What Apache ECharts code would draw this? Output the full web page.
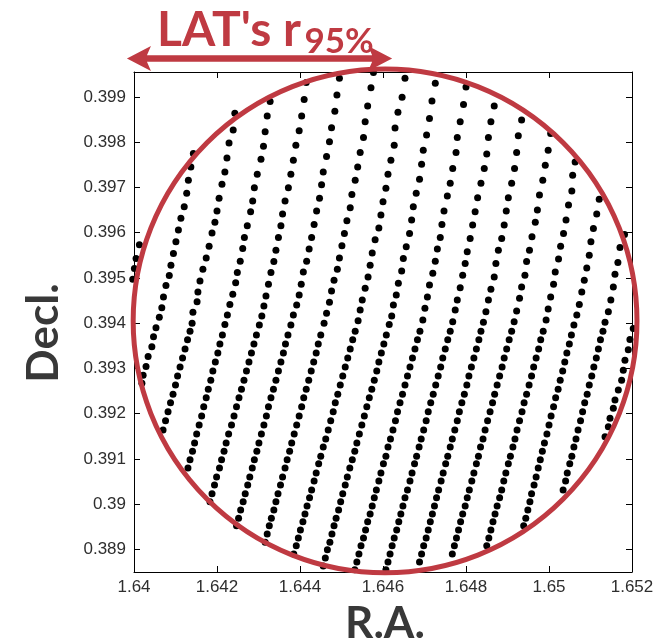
<!DOCTYPE html>
<html>
<head>
<meta charset="utf-8">
<title>LAT's r95%</title>
<script src="https://cdn.jsdelivr.net/npm/echarts@6/dist/echarts.min.js"></script>
<style>
  html, body { margin: 0; padding: 0; background: #ffffff; }
  #chart { width: 653px; height: 641px; }
</style>
</head>
<body>
<div id="chart"></div>
<script>
// Axis ranges and tick labels
const raRange = [1.64, 1.652];
const decRange = [0.3885, 0.39955];
const raTicks = [1.64, 1.642, 1.644, 1.646, 1.648, 1.65, 1.652];
const decTicks = [0.389, 0.39, 0.391, 0.392, 0.393, 0.394, 0.395, 0.396, 0.397, 0.398, 0.399];

// Scan tracks: R.A. and Decl. of every sample point, one pair of arrays per track
const raT01 = [1.64013, 1.64005, 1.64001, 1.63997];
const decT01 = [0.39573, 0.39543, 0.39521, 0.39497];

const raT02 = [1.64143, 1.64137, 1.64131, 1.64127, 1.64121, 1.64113, 1.64107, 1.64101, 1.64095, 1.64089, 1.64085, 1.64077, 1.64071, 1.64067, 1.64061, 1.64053, 1.64047, 1.64043, 1.64034, 1.64029, 1.64022, 1.64019];
const decT02 = [0.39775, 0.39745, 0.39716, 0.39687, 0.39657, 0.39632, 0.39606, 0.3958, 0.39554, 0.39528, 0.39505, 0.39483, 0.39458, 0.39434, 0.39413, 0.3939, 0.3937, 0.39348, 0.39326, 0.39304, 0.39285, 0.39267];

const raT03 = [1.64243, 1.64239, 1.64229, 1.64224, 1.64219, 1.64212, 1.64205, 1.642, 1.64195, 1.64188, 1.64181, 1.64174, 1.64166, 1.64159, 1.64154, 1.64152, 1.64142, 1.6414,
  1.64135, 1.64129, 1.64123, 1.64117, 1.64111, 1.64105, 1.641, 1.64094, 1.64088, 1.64082, 1.64076, 1.6407];
const decT03 = [0.39864, 0.39827, 0.39798, 0.39765, 0.39734, 0.39707, 0.39676, 0.39648, 0.39623, 0.39599, 0.3957, 0.39544, 0.39519, 0.39493, 0.39469, 0.39447, 0.39424, 0.394,
  0.39382, 0.39363, 0.39343, 0.39323, 0.39303, 0.39283, 0.39263, 0.39243, 0.39224, 0.39204, 0.39184, 0.39164];

const raT04 = [1.64328, 1.64321, 1.64316, 1.64312, 1.64306, 1.64297, 1.6429, 1.64286, 1.64281, 1.64273, 1.64266, 1.64262, 1.64256, 1.64249, 1.64245, 1.64238, 1.64231, 1.64225, 1.64219,
  1.64213, 1.64207, 1.64202, 1.64196, 1.6419, 1.64185, 1.64179, 1.64174, 1.64168, 1.64163, 1.64157, 1.64151, 1.64146, 1.64141, 1.64135, 1.6413];
const decT04 = [0.3989, 0.39858, 0.39823, 0.39791, 0.39762, 0.39729, 0.39699, 0.3967, 0.39646, 0.39615, 0.39589, 0.39565, 0.39537, 0.39512, 0.39489, 0.39464, 0.39441, 0.39418, 0.39397,
  0.39374, 0.39354, 0.39334, 0.39314, 0.39294, 0.39274, 0.39254, 0.39235, 0.39215, 0.39195, 0.39175, 0.39155, 0.39135, 0.39117, 0.39098, 0.3908];

const raT05 = [1.64415, 1.6441, 1.64404, 1.64398, 1.6439, 1.64384, 1.64378, 1.64372, 1.64364, 1.64358, 1.64354, 1.64348, 1.64342, 1.64337, 1.6433, 1.64324, 1.64318, 1.64313, 1.64308, 1.64302,
  1.64295, 1.64289, 1.64283, 1.64277, 1.64271, 1.64265, 1.64259, 1.64253, 1.64247, 1.64241, 1.64235, 1.64228, 1.64222, 1.64217, 1.64211, 1.64206, 1.64199, 1.64194, 1.64188, 1.64183];
const decT05 = [0.39932, 0.39894, 0.39858, 0.39825, 0.39793, 0.3976, 0.39729, 0.39699, 0.3967, 0.39641, 0.39615, 0.39589, 0.39561, 0.39536, 0.39512, 0.39486, 0.3946, 0.39438, 0.39416, 0.39396,
  0.39374, 0.39354, 0.39334, 0.39314, 0.39294, 0.39274, 0.39254, 0.39235, 0.39215, 0.39195, 0.39175, 0.39155, 0.39135, 0.39117, 0.39098, 0.3908, 0.3906, 0.39042, 0.39023, 0.39005];

const raT06 = [1.64495, 1.64489, 1.64484, 1.64476, 1.64471, 1.64464, 1.64456, 1.64452, 1.64447, 1.6444, 1.64434, 1.64428, 1.64422, 1.64416, 1.64408, 1.64403, 1.64398, 1.64392, 1.64384, 1.64378,
  1.64371, 1.64365, 1.6436, 1.64354, 1.64348, 1.64342, 1.64336, 1.6433, 1.64324, 1.64319, 1.64313, 1.64307, 1.64301, 1.64296, 1.6429, 1.64285, 1.64279, 1.64274, 1.64268, 1.64263, 1.64257, 1.64252, 1.64247];
const decT06 = [0.39941, 0.39904, 0.39868, 0.39832, 0.39801, 0.39768, 0.39734, 0.39706, 0.39676, 0.39648, 0.39618, 0.39589, 0.39564, 0.39537, 0.39513, 0.39486, 0.39462, 0.3944, 0.39418, 0.39396,
  0.39374, 0.39354, 0.39334, 0.39314, 0.39294, 0.39274, 0.39254, 0.39235, 0.39215, 0.39195, 0.39175, 0.39155, 0.39135, 0.39117, 0.39098, 0.3908, 0.3906, 0.39042, 0.39023, 0.39005, 0.38987, 0.38969, 0.38952];

const raT07 = [1.64577, 1.64571, 1.64563, 1.64557, 1.64553, 1.64545, 1.64539, 1.64533, 1.64525, 1.64521, 1.64513, 1.64507, 1.64501, 1.64495, 1.6449, 1.64482, 1.64476, 1.64471, 1.64464, 1.64458,
  1.6445, 1.64444, 1.64439, 1.64433, 1.64427, 1.64421, 1.64415, 1.64409, 1.64404, 1.64398, 1.64392, 1.64386, 1.6438, 1.64375, 1.64369, 1.64364, 1.64358, 1.64353, 1.64347, 1.64342, 1.64337, 1.64331, 1.64326, 1.64321, 1.64316];
const decT07 = [0.39954, 0.3992, 0.3988, 0.39845, 0.3981, 0.39777, 0.39745, 0.39716, 0.39684, 0.39655, 0.39626, 0.39598, 0.39571, 0.39544, 0.39519, 0.39495, 0.39471, 0.39446, 0.39422, 0.394,
  0.39374, 0.39354, 0.39334, 0.39314, 0.39294, 0.39274, 0.39254, 0.39235, 0.39215, 0.39195, 0.39175, 0.39155, 0.39135, 0.39117, 0.39098, 0.3908, 0.3906, 0.39042, 0.39023, 0.39005, 0.38987, 0.38969, 0.38952, 0.38934, 0.38916];

const raT08 = [1.64653, 1.64646, 1.64636, 1.64629, 1.64627, 1.64619, 1.64612, 1.64607, 1.646, 1.64595, 1.6459, 1.64581, 1.64574, 1.64569, 1.64564, 1.64557, 1.6455, 1.64545, 1.6454,
  1.64533, 1.64527, 1.64521, 1.64515, 1.64509, 1.64503, 1.64497, 1.64491, 1.64485, 1.6448, 1.64474, 1.64468, 1.64462, 1.64456, 1.6445, 1.64445, 1.64439, 1.64434, 1.64428, 1.64423, 1.64417, 1.64412, 1.64407, 1.64401, 1.64396, 1.64391, 1.64385];
const decT08 = [0.39941, 0.39899, 0.39866, 0.39831, 0.39793, 0.3976, 0.39729, 0.39698, 0.39668, 0.39639, 0.3961, 0.39584, 0.39555, 0.39528, 0.39502, 0.39477, 0.39451, 0.39429, 0.39405,
  0.39382, 0.39363, 0.39343, 0.39323, 0.39303, 0.39283, 0.39263, 0.39243, 0.39224, 0.39204, 0.39184, 0.39164, 0.39144, 0.39126, 0.39106, 0.39089, 0.39069, 0.39051, 0.39031, 0.39014, 0.38996, 0.38978, 0.38961, 0.38943, 0.38925, 0.38908, 0.3889];

const raT09 = [1.64726, 1.64718, 1.64712, 1.64705, 1.64697, 1.64693, 1.64688, 1.6468, 1.64673, 1.64669, 1.64664, 1.64656, 1.64649, 1.64645, 1.64637, 1.64632, 1.64625, 1.64621, 1.64615,
  1.64608, 1.64602, 1.64596, 1.6459, 1.64585, 1.64579, 1.64573, 1.64567, 1.64561, 1.64555, 1.64549, 1.64543, 1.64537, 1.64532, 1.64526, 1.6452, 1.64514, 1.64509, 1.64503, 1.64498, 1.64493, 1.64487, 1.64482, 1.64477, 1.64472, 1.64466, 1.64461, 1.64456];
const decT09 = [0.3993, 0.39891, 0.39852, 0.39816, 0.39782, 0.39751, 0.39718, 0.39687, 0.39657, 0.39628, 0.39598, 0.39569, 0.39543, 0.39515, 0.39488, 0.39462, 0.3944, 0.39416, 0.39397,
  0.39374, 0.39354, 0.39334, 0.39314, 0.39294, 0.39274, 0.39254, 0.39235, 0.39215, 0.39195, 0.39175, 0.39155, 0.39135, 0.39117, 0.39098, 0.3908, 0.3906, 0.39042, 0.39023, 0.39005, 0.38987, 0.38969, 0.38952, 0.38934, 0.38916, 0.38899, 0.38881, 0.38863];

const raT10 = [1.648, 1.64794, 1.64786, 1.64779, 1.64776, 1.64768, 1.64762, 1.64755, 1.64747, 1.64742, 1.64738, 1.64731, 1.64726, 1.6472, 1.64712, 1.64707, 1.64701, 1.64696,
  1.64689, 1.64683, 1.64677, 1.64671, 1.64665, 1.64659, 1.64653, 1.64647, 1.64641, 1.64635, 1.6463, 1.64624, 1.64618, 1.64612, 1.64607, 1.64601, 1.64595, 1.6459, 1.64584, 1.64579, 1.64574, 1.64569, 1.64563, 1.64558, 1.64553, 1.64547, 1.64542, 1.64537, 1.64532];
const decT10 = [0.39922, 0.39883, 0.39845, 0.3981, 0.39777, 0.39742, 0.39709, 0.39681, 0.39648, 0.39618, 0.39589, 0.39564, 0.39537, 0.3951, 0.39484, 0.39458, 0.39433, 0.39407,
  0.39382, 0.39363, 0.39343, 0.39323, 0.39303, 0.39283, 0.39263, 0.39243, 0.39224, 0.39204, 0.39184, 0.39164, 0.39144, 0.39126, 0.39106, 0.39089, 0.39069, 0.39051, 0.39031, 0.39014, 0.38996, 0.38978, 0.38961, 0.38943, 0.38925, 0.38908, 0.3889, 0.38872, 0.38855];

const raT11 = [1.64868, 1.6486, 1.64854, 1.6485, 1.64844, 1.64836, 1.64828, 1.64822, 1.64816, 1.6481, 1.64803, 1.64798, 1.64792, 1.64786, 1.64779, 1.64774, 1.64768,
  1.64762, 1.64756, 1.6475, 1.64744, 1.64739, 1.64733, 1.64727, 1.64721, 1.64715, 1.64709, 1.64704, 1.64698, 1.64692, 1.64687, 1.64681, 1.64676, 1.6467, 1.64665, 1.64659, 1.64653, 1.64648, 1.64643, 1.64638, 1.64633, 1.64627, 1.64622, 1.64617, 1.64612, 1.64607];
const decT11 = [0.3988, 0.39845, 0.3981, 0.39774, 0.39742, 0.39709, 0.39677, 0.39646, 0.39617, 0.39587, 0.39558, 0.39532, 0.39506, 0.39478, 0.39451, 0.39429, 0.39403,
  0.39382, 0.39363, 0.39343, 0.39323, 0.39303, 0.39283, 0.39263, 0.39243, 0.39224, 0.39204, 0.39184, 0.39164, 0.39144, 0.39126, 0.39106, 0.39089, 0.39069, 0.39051, 0.39031, 0.39014, 0.38996, 0.38978, 0.38961, 0.38943, 0.38925, 0.38908, 0.3889, 0.38872, 0.38855];

const raT12 = [1.64934, 1.64926, 1.64922, 1.64917, 1.6491, 1.64902, 1.64897, 1.64892, 1.64886, 1.64878, 1.64872, 1.64868, 1.6486, 1.64854, 1.64848, 1.64842,
  1.64836, 1.64831, 1.64825, 1.64819, 1.64813, 1.64807, 1.64802, 1.64796, 1.6479, 1.64784, 1.64779, 1.64773, 1.64767, 1.64762, 1.64756, 1.64751, 1.64745, 1.6474, 1.64734, 1.64729, 1.64724, 1.64719, 1.64714, 1.64709, 1.64704, 1.64698, 1.64693, 1.64688];
const decT12 = [0.39849, 0.39814, 0.39777, 0.39742, 0.39709, 0.39677, 0.39648, 0.39617, 0.39587, 0.39561, 0.39532, 0.39502, 0.39475, 0.39451, 0.39425, 0.39402,
  0.39382, 0.39363, 0.39343, 0.39323, 0.39303, 0.39283, 0.39263, 0.39243, 0.39224, 0.39204, 0.39184, 0.39164, 0.39144, 0.39126, 0.39106, 0.39089, 0.39069, 0.39051, 0.39031, 0.39014, 0.38996, 0.38978, 0.38961, 0.38943, 0.38925, 0.38908, 0.3889, 0.38872];

const raT13 = [1.65004, 1.64998, 1.64991, 1.64985, 1.64977, 1.64972, 1.64967, 1.64959, 1.64953, 1.64946, 1.64942, 1.64934, 1.64929, 1.64922, 1.64916,
  1.6491, 1.64904, 1.64898, 1.64892, 1.64887, 1.64881, 1.64875, 1.64869, 1.64864, 1.64858, 1.64852, 1.64846, 1.64841, 1.64835, 1.6483, 1.64825, 1.64819, 1.64814, 1.64808, 1.64803, 1.64798, 1.64792, 1.64787, 1.64782, 1.64777, 1.64772, 1.64767];
const decT13 = [0.39819, 0.39782, 0.39749, 0.39716, 0.39683, 0.3965, 0.39623, 0.39591, 0.39561, 0.39536, 0.39506, 0.3948, 0.39455, 0.39427, 0.39403,
  0.39382, 0.39363, 0.39343, 0.39323, 0.39303, 0.39283, 0.39263, 0.39243, 0.39224, 0.39204, 0.39184, 0.39164, 0.39144, 0.39126, 0.39106, 0.39089, 0.39069, 0.39051, 0.39031, 0.39014, 0.38996, 0.38978, 0.38961, 0.38943, 0.38925, 0.38908, 0.3889];

const raT14 = [1.65063, 1.65057, 1.65055, 1.65047, 1.65041, 1.65035, 1.65028, 1.65023, 1.65015, 1.65011, 1.65004, 1.64998, 1.64993,
  1.64986, 1.6498, 1.64975, 1.64969, 1.64963, 1.64958, 1.64952, 1.64946, 1.6494, 1.64935, 1.64929, 1.64923, 1.64918, 1.64913, 1.64907, 1.64902, 1.64896, 1.64891, 1.64886, 1.64881, 1.64875, 1.6487, 1.64865, 1.6486, 1.64855, 1.6485];
const decT14 = [0.39756, 0.39727, 0.39692, 0.39661, 0.39628, 0.39598, 0.3957, 0.39542, 0.39513, 0.39486, 0.39458, 0.39431, 0.39407,
  0.39382, 0.39363, 0.39343, 0.39323, 0.39303, 0.39283, 0.39263, 0.39243, 0.39224, 0.39204, 0.39184, 0.39164, 0.39144, 0.39126, 0.39106, 0.39089, 0.39069, 0.39051, 0.39031, 0.39014, 0.38996, 0.38978, 0.38961, 0.38943, 0.38925, 0.38908];

const raT15 = [1.65121, 1.65115, 1.65107, 1.65101, 1.65097, 1.65091, 1.65085, 1.65079, 1.65073, 1.65067, 1.6506,
  1.65054, 1.65049, 1.65043, 1.65038, 1.65033, 1.65027, 1.65022, 1.65016, 1.65011, 1.65005, 1.65, 1.64995, 1.64989, 1.64984, 1.64979, 1.64974, 1.64969, 1.64964, 1.64958, 1.64954, 1.64949, 1.64944, 1.64939];
const decT15 = [0.39674, 0.39641, 0.39609, 0.3958, 0.3955, 0.39522, 0.39495, 0.39469, 0.39441, 0.39418, 0.39396,
  0.39374, 0.39354, 0.39334, 0.39314, 0.39294, 0.39274, 0.39254, 0.39235, 0.39215, 0.39195, 0.39175, 0.39155, 0.39135, 0.39117, 0.39098, 0.3908, 0.3906, 0.39042, 0.39023, 0.39005, 0.38987, 0.38969, 0.38952];

const raT16 = [1.65182, 1.65171, 1.65166, 1.65159, 1.65155, 1.65149, 1.65143, 1.65135,
  1.6513, 1.65124, 1.65119, 1.65114, 1.65108, 1.65103, 1.65097, 1.65092, 1.65086, 1.65081, 1.65076, 1.6507, 1.65065, 1.6506, 1.65055, 1.6505, 1.65044, 1.6504, 1.65034];
const decT16 = [0.39596, 0.39567, 0.39534, 0.39508, 0.3948, 0.39451, 0.39425, 0.39402,
  0.39382, 0.39363, 0.39343, 0.39323, 0.39303, 0.39283, 0.39263, 0.39243, 0.39224, 0.39204, 0.39184, 0.39164, 0.39144, 0.39126, 0.39106, 0.39089, 0.39069, 0.39051, 0.39031];

const raT17 = [1.65203, 1.65195, 1.65191, 1.65183, 1.65179, 1.65175, 1.65167, 1.65159, 1.65155, 1.65147, 1.65143, 1.65135];
const decT17 = [0.39388, 0.39364, 0.39341, 0.39318, 0.39296, 0.39274, 0.39252, 0.3923, 0.39212, 0.3919, 0.39171, 0.39149];

// LAT 95% containment circle: centre (R.A., Decl.) and radius along R.A.
const circleCenter = [1.64605, 0.39405];
const circleRadiusRa = 0.00607;

// r95 arrow above the plot: R.A. of both tips and its Decl. level
const arrowRa = [1.63983, 1.64622];
const arrowDec = 0.39985;

const RED = '#bf3a42';
const LABEL_GRAY = '#383838';

const tracks = [
  [raT01, decT01], [raT02, decT02], [raT03, decT03], [raT04, decT04], [raT05, decT05],
  [raT06, decT06], [raT07, decT07], [raT08, decT08], [raT09, decT09], [raT10, decT10],
  [raT11, decT11], [raT12, decT12], [raT13, decT13], [raT14, decT14], [raT15, decT15],
  [raT16, decT16], [raT17, decT17]
];

const scanPoints = [];
tracks.forEach(function (t) {
  const n = Math.min(t[0].length, t[1].length);
  for (let i = 0; i < n; i++) scanPoints.push([t[0][i], t[1][i]]);
});

const fmt = function (v) { return String(+(+v).toFixed(3)); };

const tickLabel = {
  fontFamily: 'Liberation Sans',
  fontSize: 17,
  color: '#2e2e2e'
};

function axisBase(extra) {
  return Object.assign({
    type: 'value',
    axisLine: { show: true, onZero: false, lineStyle: { color: '#000000', width: 1 } },
    splitLine: { show: false }
  }, extra);
}

const chart = echarts.init(document.getElementById('chart'), null, { renderer: 'canvas' });

chart.setOption({
  backgroundColor: '#ffffff',
  animation: false,
  grid: { left: 134, top: 72, width: 498, height: 500, containLabel: false, outerBoundsMode: 'none' },
  xAxis: [
    axisBase({
      position: 'bottom', min: raRange[0], max: raRange[1],
      axisTick: { show: true, inside: true, length: 6, customValues: raTicks, lineStyle: { color: '#000000' } },
      axisLabel: Object.assign({ show: true, margin: 7, customValues: raTicks, formatter: fmt }, tickLabel)
    }),
    axisBase({
      position: 'top', min: raRange[0], max: raRange[1],
      axisTick: { show: true, inside: true, length: 6, customValues: raTicks, lineStyle: { color: '#000000' } },
      axisLabel: { show: false }
    })
  ],
  yAxis: [
    axisBase({
      position: 'left', min: decRange[0], max: decRange[1],
      axisTick: { show: true, inside: true, length: 6, customValues: decTicks, lineStyle: { color: '#000000' } },
      axisLabel: Object.assign({ show: true, margin: 8, customValues: decTicks, formatter: fmt }, tickLabel)
    }),
    axisBase({
      position: 'right', min: decRange[0], max: decRange[1],
      axisTick: { show: true, inside: true, length: 6, customValues: decTicks, lineStyle: { color: '#000000' } },
      axisLabel: { show: false }
    })
  ],
  series: [
    {
      name: 'scan',
      type: 'scatter',
      xAxisIndex: 0,
      yAxisIndex: 0,
      data: scanPoints,
      symbol: 'circle',
      symbolSize: 7,
      clip: false,
      silent: true,
      itemStyle: { color: '#000000', opacity: 1 },
      z: 2
    },
    {
      name: 'r95 circle',
      type: 'custom',
      xAxisIndex: 0,
      yAxisIndex: 0,
      data: [[circleCenter[0], circleCenter[1], circleRadiusRa]],
      encode: { x: 0, y: 1 },
      clip: false,
      silent: true,
      z: 3,
      renderItem: function (params, api) {
        const c = api.coord([api.value(0), api.value(1)]);
        const r = api.size([api.value(2), 0])[0];
        return {
          type: 'circle',
          shape: { cx: c[0], cy: c[1], r: r },
          style: { fill: 'none', stroke: RED, lineWidth: 5 }
        };
      }
    },
    {
      name: 'r95 arrow',
      type: 'custom',
      xAxisIndex: 0,
      yAxisIndex: 0,
      data: [[arrowRa[0], arrowRa[1], arrowDec]],
      encode: { x: [0, 1], y: 2 },
      clip: false,
      silent: true,
      z: 4,
      renderItem: function (params, api) {
        const a = api.coord([api.value(0), api.value(2)]);
        const b = api.coord([api.value(1), api.value(2)]);
        const y = a[1], x0 = a[0], x1 = b[0];
        const hl = 24, hh = 12.5, sh = 3.3, notch = 4;
        return {
          type: 'polygon',
          shape: {
            points: [
              [x0, y], [x0 + hl, y - hh], [x0 + hl - notch, y - sh],
              [x1 - hl + notch, y - sh], [x1 - hl, y - hh], [x1, y],
              [x1 - hl, y + hh], [x1 - hl + notch, y + sh],
              [x0 + hl - notch, y + sh], [x0 + hl, y + hh]
            ]
          },
          style: { fill: RED, stroke: null }
        };
      }
    }
  ],
  graphic: [
    {
      type: 'text', x: 157, y: 31, silent: true, z: 10,
      style: { text: "LAT's r", font: 'bold 48px Lato', fill: RED, textAlign: 'left', textVerticalAlign: 'middle' }
    },
    {
      type: 'text', x: 304.5, y: 42, silent: true, z: 10,
      style: { text: '95%', font: 'bold 35px Lato', fill: RED, textAlign: 'left', textVerticalAlign: 'middle' }
    },
    {
      type: 'text', x: 44, y: 333, rotation: Math.PI / 2, silent: true, z: 10,
      style: { text: 'Decl.', font: 'bold 44px Lato', fill: LABEL_GRAY, textAlign: 'center', textVerticalAlign: 'middle' }
    },
    {
      type: 'text', x: 385, y: 624, silent: true, z: 10,
      style: { text: 'R.A.', font: 'bold 44px Lato', fill: LABEL_GRAY, textAlign: 'center', textVerticalAlign: 'middle' }
    }
  ]
});
</script>
</body>
</html>
